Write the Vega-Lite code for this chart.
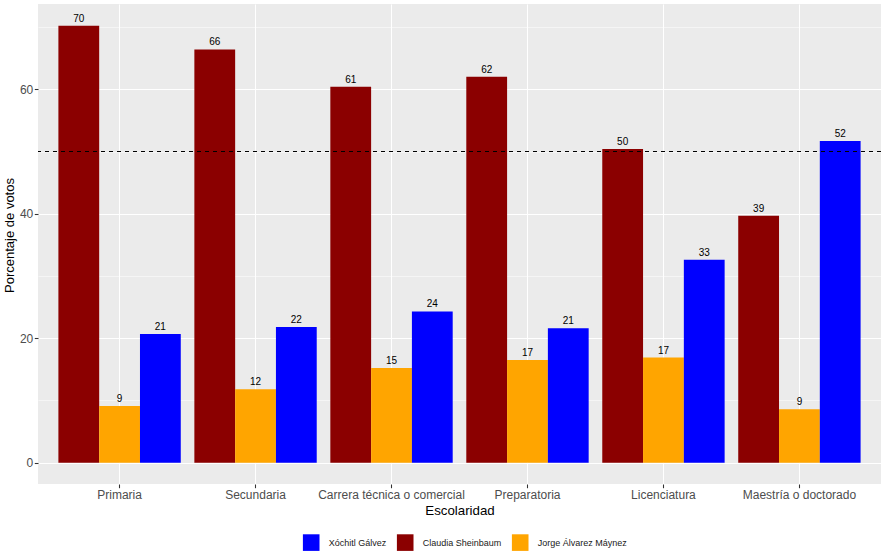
{
  "$schema": "https://vega.github.io/schema/vega-lite/v6.json",
  "width": 843,
  "height": 480,
  "autosize": {"type": "none"},
  "padding": {"left": 38, "top": 4, "right": 3, "bottom": 76},
  "background": "white",
  "config": {
    "view": {"fill": "#EBEBEB", "stroke": null},
    "font": "Liberation Sans"
  },
  "data": {
    "values": [
      {"Escolaridad": "Primaria", "Candidato": "Claudia Sheinbaum", "Porcentaje": 70.2, "Etiqueta": "70"},
      {"Escolaridad": "Primaria", "Candidato": "Jorge Álvarez Máynez", "Porcentaje": 9.1, "Etiqueta": "9"},
      {"Escolaridad": "Primaria", "Candidato": "Xóchitl Gálvez", "Porcentaje": 20.7, "Etiqueta": "21"},
      {"Escolaridad": "Secundaria", "Candidato": "Claudia Sheinbaum", "Porcentaje": 66.4, "Etiqueta": "66"},
      {"Escolaridad": "Secundaria", "Candidato": "Jorge Álvarez Máynez", "Porcentaje": 11.8, "Etiqueta": "12"},
      {"Escolaridad": "Secundaria", "Candidato": "Xóchitl Gálvez", "Porcentaje": 21.8, "Etiqueta": "22"},
      {"Escolaridad": "Carrera técnica o comercial", "Candidato": "Claudia Sheinbaum", "Porcentaje": 60.4, "Etiqueta": "61"},
      {"Escolaridad": "Carrera técnica o comercial", "Candidato": "Jorge Álvarez Máynez", "Porcentaje": 15.2, "Etiqueta": "15"},
      {"Escolaridad": "Carrera técnica o comercial", "Candidato": "Xóchitl Gálvez", "Porcentaje": 24.3, "Etiqueta": "24"},
      {"Escolaridad": "Preparatoria", "Candidato": "Claudia Sheinbaum", "Porcentaje": 62.0, "Etiqueta": "62"},
      {"Escolaridad": "Preparatoria", "Candidato": "Jorge Álvarez Máynez", "Porcentaje": 16.5, "Etiqueta": "17"},
      {"Escolaridad": "Preparatoria", "Candidato": "Xóchitl Gálvez", "Porcentaje": 21.6, "Etiqueta": "21"},
      {"Escolaridad": "Licenciatura", "Candidato": "Claudia Sheinbaum", "Porcentaje": 50.4, "Etiqueta": "50"},
      {"Escolaridad": "Licenciatura", "Candidato": "Jorge Álvarez Máynez", "Porcentaje": 16.9, "Etiqueta": "17"},
      {"Escolaridad": "Licenciatura", "Candidato": "Xóchitl Gálvez", "Porcentaje": 32.6, "Etiqueta": "33"},
      {"Escolaridad": "Maestría o doctorado", "Candidato": "Claudia Sheinbaum", "Porcentaje": 39.7, "Etiqueta": "39"},
      {"Escolaridad": "Maestría o doctorado", "Candidato": "Jorge Álvarez Máynez", "Porcentaje": 8.6, "Etiqueta": "9"},
      {"Escolaridad": "Maestría o doctorado", "Candidato": "Xóchitl Gálvez", "Porcentaje": 51.7, "Etiqueta": "52"}
    ]
  },
  "layer": [
    {
      "mark": {"type": "bar"},
      "encoding": {
        "x": {
          "field": "Escolaridad",
          "type": "nominal",
          "sort": ["Primaria", "Secundaria", "Carrera técnica o comercial", "Preparatoria", "Licenciatura", "Maestría o doctorado"],
          "scale": {"paddingInner": 0.1, "paddingOuter": 0.15},
          "axis": {
            "title": "Escolaridad",
            "labelAngle": 0,
            "labelFontSize": 12,
            "labelColor": "#4D4D4D",
            "labelPadding": 1.5,
            "tickColor": "#333333",
            "tickSize": 3.7,
            "tickWidth": 1.07,
            "domain": false,
            "grid": true,
            "gridColor": "white",
            "gridWidth": 1.07,
            "bandPosition": 0.5,
            "titleFontSize": 13.3,
            "titleFontWeight": "normal",
            "titleColor": "black",
            "titleY": 30,
            "titleBaseline": "alphabetic"
          }
        },
        "xOffset": {
          "field": "Candidato",
          "type": "nominal",
          "sort": ["Claudia Sheinbaum", "Jorge Álvarez Máynez", "Xóchitl Gálvez"],
          "scale": {"paddingInner": 0, "paddingOuter": 0}
        },
        "y": {
          "field": "Porcentaje",
          "type": "quantitative",
          "scale": {"domain": [-3.42, 73.71], "nice": false, "zero": false},
          "axis": {
            "title": "Porcentaje de votos",
            "values": [0, 20, 40, 60],
            "domain": false,
            "tickColor": "#333333",
            "tickSize": 3.7,
            "tickWidth": 1.07,
            "labelFontSize": 12,
            "labelColor": "#4D4D4D",
            "labelPadding": 1.5,
            "grid": true,
            "gridColor": "white",
            "gridWidth": 1.07,
            "titleFontSize": 13,
            "titleFontWeight": "normal",
            "titleColor": "black",
            "titleX": -25,
            "titleY": 231,
            "titleBaseline": "alphabetic"
          }
        },
        "color": {
          "field": "Candidato",
          "type": "nominal",
          "scale": {
            "domain": ["Xóchitl Gálvez", "Claudia Sheinbaum", "Jorge Álvarez Máynez"],
            "range": ["#0000FF", "#8B0000", "#FFA500"]
          },
          "legend": {
            "title": null,
            "orient": "none",
            "direction": "horizontal",
            "legendX": 264.7,
            "legendY": 530,
            "symbolType": "square",
            "symbolSize": 276,
            "symbolStrokeWidth": 0,
            "labelFontSize": 9,
            "labelColor": "#1A1A1A",
            "labelOffset": 9,
            "columnPadding": 10
          }
        }
      }
    },
    {
      "mark": {"type": "text", "dy": -4, "baseline": "alphabetic", "fontSize": 10, "color": "black"},
      "encoding": {
        "x": {
          "field": "Escolaridad",
          "type": "nominal",
          "sort": ["Primaria", "Secundaria", "Carrera técnica o comercial", "Preparatoria", "Licenciatura", "Maestría o doctorado"]
        },
        "xOffset": {
          "field": "Candidato",
          "type": "nominal",
          "sort": ["Claudia Sheinbaum", "Jorge Álvarez Máynez", "Xóchitl Gálvez"]
        },
        "y": {"field": "Porcentaje", "type": "quantitative", "axis": null},
        "text": {"field": "Etiqueta", "type": "nominal"}
      }
    },
    {
      "data": {"values": [{"umbral": 50}]},
      "mark": {"type": "rule", "strokeDash": [4, 4], "strokeWidth": 1.07, "color": "black"},
      "encoding": {
        "y": {
          "field": "umbral",
          "type": "quantitative",
          "axis": {
            "orient": "left",
            "title": null,
            "values": [10, 30, 50, 70],
            "labels": false,
            "ticks": false,
            "domain": false,
            "grid": true,
            "gridColor": "white",
            "gridWidth": 0.53
          }
        }
      }
    }
  ],
  "resolve": {"axis": {"y": "independent"}}
}
